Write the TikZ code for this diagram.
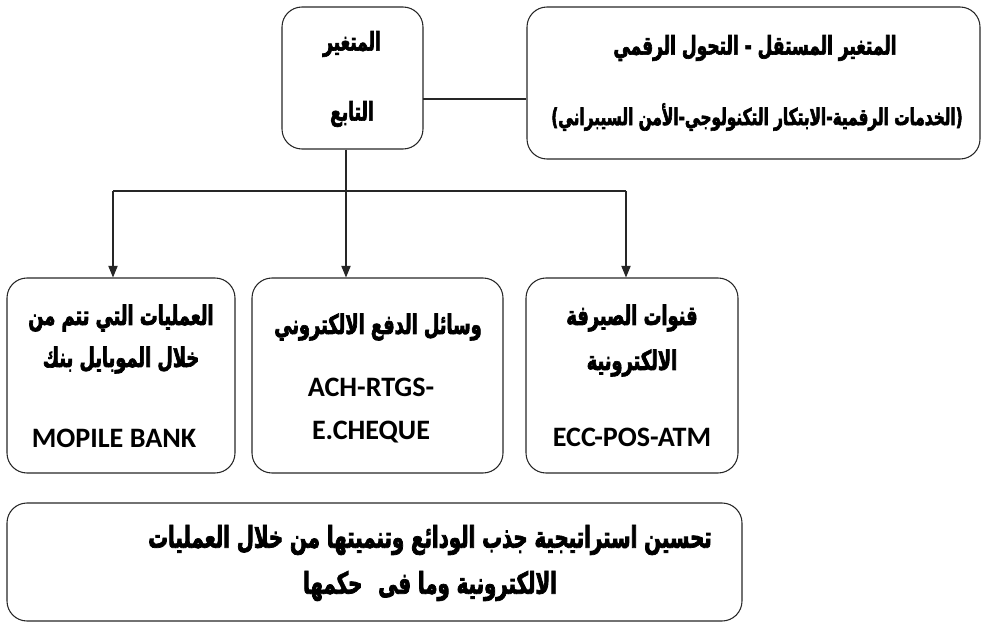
\documentclass[tikz,border=0pt]{standalone}
\usepackage{fontspec}
\setmainfont{Carlito}
\newfontfamily\arabicfont[Script=Arabic, FakeStretch=0.66, BoldFeatures={FakeBold=2.5}]{DejaVu Sans}
\TeXXeTstate=1
\usetikzlibrary{positioning,fit,arrows.meta}

\newcommand{\rtl}[1]{\beginR #1\endR}

\tikzset{
  box/.style={draw=black!85, line width=0.9pt, rounded corners=0.6cm, inner sep=0pt},
  link/.style={draw=black!85, line width=0.9pt},
  arr/.style={link, -{Triangle[width=8pt,length=10pt]}},
  ar/.style={font=\arabicfont\bfseries\fontsize{22}{25}\selectfont, inner sep=0pt},
  arsmall/.style={font=\arabicfont\bfseries\fontsize{19.8}{23}\selectfont, inner sep=0pt},
  armid/.style={font=\arabicfont\bfseries\fontsize{23}{26}\selectfont, inner sep=0pt},
  arbig/.style={font=\arabicfont\bfseries\fontsize{25.5}{28}\selectfont, inner sep=0pt},
  en/.style={font=\bfseries\fontsize{24}{27}\selectfont, inner sep=0pt},
}

\begin{document}
\begin{tikzpicture}[x=0.03cm,y=-0.03cm]
\useasboundingbox (0,0) rectangle (985,623);

% top row
\node[box, fit={(282,7) (423,149)}] (dep) {};
\node[box, fit={(527,7) (980,159)}] (indep) {};
\node[ar] (depA) at (352,44) {\rtl{المتغير}};
\node[ar] (depB) at (352,114) {\rtl{التابع}};
\node[ar] (indepA) at (755,48) {\rtl{المتغير المستقل - التحول الرقمي}};
\node[arsmall] (indepB) at (757,117) {\rtl{(الخدمات الرقمية-الابتكار التكنولوجي-الأمن السيبراني)}};

% second row
\node[box, fit={(7,278) (235,473)}] (mobile) {};
\node[box, fit={(252,278) (503,473)}] (payment) {};
\node[box, fit={(526,278) (738,473)}] (channels) {};

\node[armid] (mobileA) at (121,318) {\rtl{العمليات التي تتم من}};
\node[armid] (mobileB) at (121,360) {\rtl{خلال الموبايل بنك}};
\node[en] (mobileC) at (114,438) {MOPILE BANK};

\node[armid] (paymentA) at (378,327) {\rtl{وسائل الدفع الالكتروني}};
\node[en] (paymentB) at (371,387) {ACH-RTGS-};
\node[en] (paymentC) at (371,432) {E.CHEQUE};

\node[armid] (channelsA) at (632,318) {\rtl{قنوات الصيرفة}};
\node[armid] (channelsB) at (632,363) {\rtl{الالكترونية}};
\node[en] (channelsC) at (632,437) {ECC-POS-ATM};

% bottom box
\node[box, fit={(7,503) (742,621)}] (goal) {};
\node[arbig] (goalA) at (430,540) {\rtl{تحسين استراتيجية جذب الودائع وتنميتها من خلال العمليات}};
\node[arbig] (goalB) at (430,586) {\rtl{الالكترونية وما فى\hspace{0.3em} حكمها}};

% connectors
\coordinate (tie) at (423,99);
\draw[link] (tie) -- (tie -| indep.west);
\coordinate (hubL) at (113,191);
\coordinate (hubM) at (346,191);
\coordinate (hubR) at (626,191);
\draw[link] (hubM |- dep.south) -- (hubM);
\draw[link] (hubL) -- (hubR);
\draw[arr] (hubL) -- (hubL |- mobile.north);
\draw[arr] (hubM) -- (hubM |- payment.north);
\draw[arr] (hubR) -- (hubR |- channels.north);
\end{tikzpicture}
\end{document}
